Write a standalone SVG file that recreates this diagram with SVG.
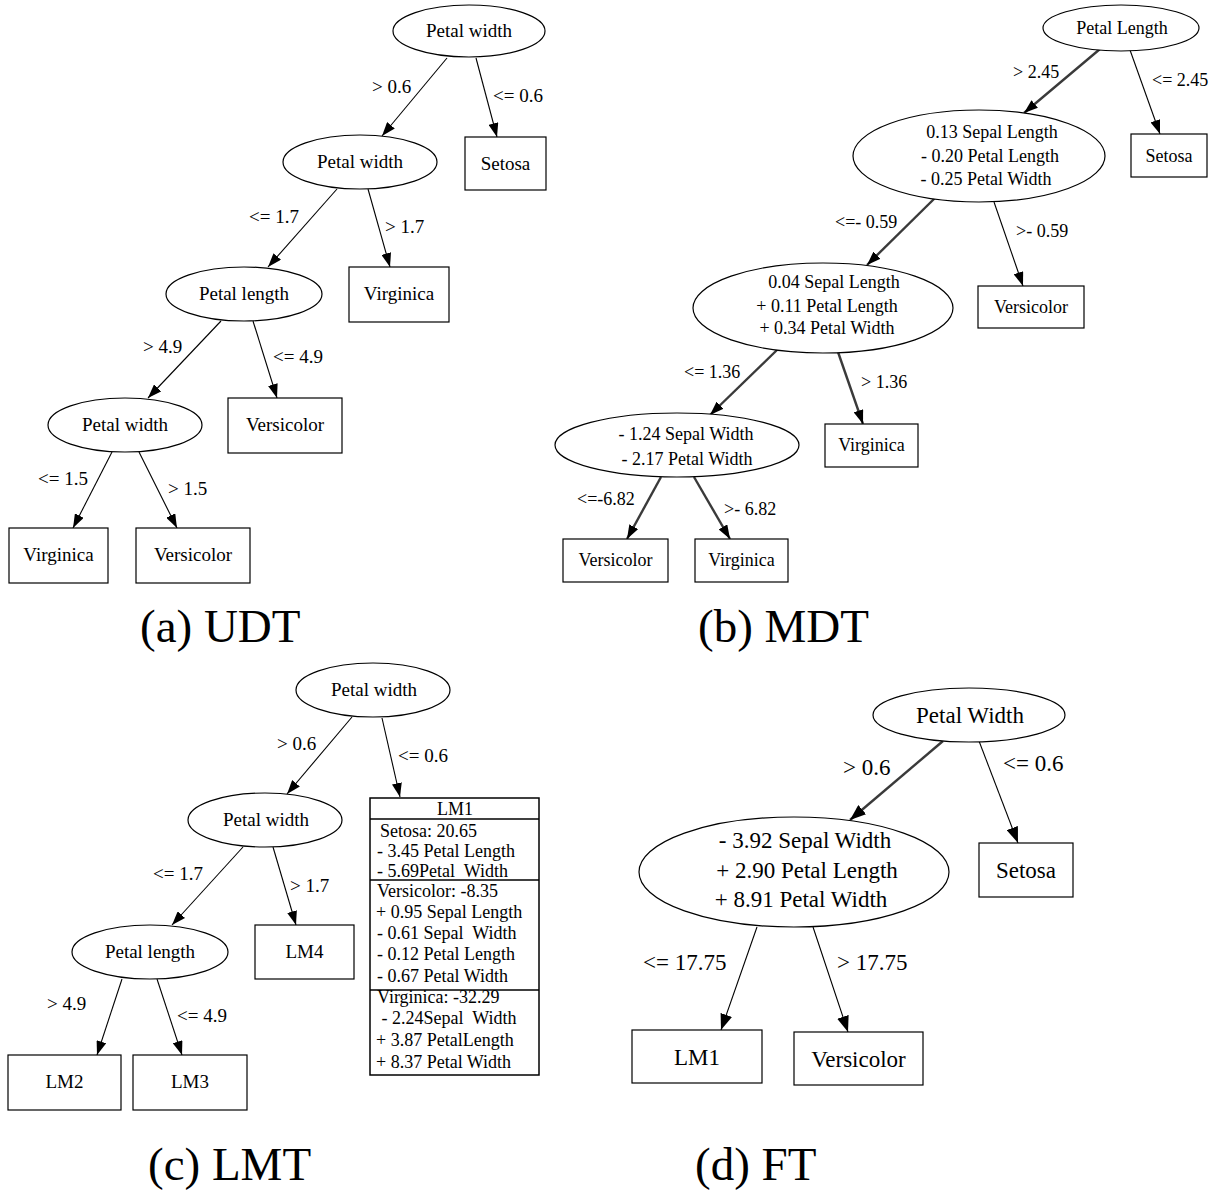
<svg xmlns="http://www.w3.org/2000/svg" width="1219" height="1200" viewBox="0 0 1219 1200">
<style>
text{font-family:"Liberation Serif","Times New Roman",serif;fill:#000;white-space:pre}
.n{fill:#fff;stroke:#000;stroke-width:1.2}
.e{fill:none;stroke:#000;stroke-width:1.1;marker-end:url(#ah)}
.t{fill:none;stroke:#3a3a3a;stroke-width:2.4;marker-end:url(#ah)}
.ed{fill:none;stroke:#000;stroke-width:1.1;marker-end:url(#ah2)}
.td{fill:none;stroke:#3a3a3a;stroke-width:2.4;marker-end:url(#ah2)}
.f19{font-size:19px}.f18{font-size:18px}.f23{font-size:23px}
.c{text-anchor:middle}
.title{font-size:47px}
.sep{stroke:#000;stroke-width:1.5}
</style>
<defs>
<marker id="ah" markerWidth="14" markerHeight="10" refX="14" refY="5" orient="auto" markerUnits="userSpaceOnUse"><path d="M0,0 L14,5 L0,10 z" fill="#000"/></marker>
<marker id="ah2" markerWidth="16" markerHeight="12" refX="16" refY="6" orient="auto" markerUnits="userSpaceOnUse"><path d="M0,0 L16,6 L0,12 z" fill="#000"/></marker>
</defs>
<rect width="1219" height="1200" fill="#fff"/>

<g id="connectors">
<!-- (a) -->
<line class="e" x1="447" y1="58" x2="382" y2="136"/>
<line class="e" x1="476" y1="58" x2="497" y2="137"/>
<line class="e" x1="337" y1="189" x2="268" y2="267"/>
<line class="e" x1="368" y1="189" x2="390" y2="267"/>
<line class="e" x1="221" y1="321" x2="148" y2="398"/>
<line class="e" x1="253" y1="321" x2="277" y2="398"/>
<line class="e" x1="112" y1="452" x2="73" y2="528"/>
<line class="e" x1="139" y1="452" x2="177" y2="528"/>
<g class="f19">
<text x="372" y="93">&gt; 0.6</text>
<text x="493" y="102">&lt;= 0.6</text>
<text x="249" y="223">&lt;= 1.7</text>
<text x="385" y="233">&gt; 1.7</text>
<text x="143" y="353">&gt; 4.9</text>
<text x="273" y="363">&lt;= 4.9</text>
<text x="38" y="485">&lt;= 1.5</text>
<text x="168" y="495">&gt; 1.5</text>
</g>
<!-- (b) -->
<line class="t" x1="1100" y1="49" x2="1024" y2="113"/>
<line class="e" x1="1130" y1="50" x2="1160" y2="134"/>
<line class="t" x1="935" y1="198" x2="867" y2="265"/>
<line class="e" x1="994" y1="202" x2="1023" y2="286"/>
<line class="t" x1="777" y1="350" x2="710" y2="415"/>
<line class="t" x1="838" y1="352" x2="863" y2="424"/>
<line class="t" x1="661" y1="477" x2="627" y2="539"/>
<line class="t" x1="694" y1="477" x2="730" y2="539"/>
<g class="f18">
<text x="1013" y="78">&gt; 2.45</text>
<text x="1152" y="86">&lt;= 2.45</text>
<text x="835" y="228">&lt;=- 0.59</text>
<text x="1016" y="237">&gt;- 0.59</text>
<text x="684" y="378">&lt;= 1.36</text>
<text x="861" y="388">&gt; 1.36</text>
<text x="577" y="505">&lt;=-6.82</text>
<text x="724" y="515">&gt;- 6.82</text>
</g>
<!-- (c) -->
<line class="e" x1="352" y1="717" x2="287" y2="794"/>
<line class="e" x1="382" y1="718" x2="400" y2="797"/>
<line class="e" x1="243" y1="847" x2="172" y2="925"/>
<line class="e" x1="273" y1="847" x2="296" y2="925"/>
<line class="e" x1="122" y1="979" x2="97" y2="1055"/>
<line class="e" x1="157" y1="979" x2="182" y2="1055"/>
<g class="f19">
<text x="277" y="750">&gt; 0.6</text>
<text x="398" y="762">&lt;= 0.6</text>
<text x="153" y="880">&lt;= 1.7</text>
<text x="290" y="892">&gt; 1.7</text>
<text x="47" y="1010">&gt; 4.9</text>
<text x="177" y="1022">&lt;= 4.9</text>
</g>
<!-- (d) -->
<line class="td" x1="943" y1="741" x2="850" y2="820"/>
<line class="ed" x1="979" y1="741" x2="1018" y2="843"/>
<line class="ed" x1="757" y1="927" x2="721" y2="1030"/>
<line class="ed" x1="813" y1="927" x2="848" y2="1032"/>
<g class="f23">
<text x="843" y="775">&gt; 0.6</text>
<text x="1003" y="771">&lt;= 0.6</text>
<text x="643" y="970">&lt;= 17.75</text>
<text x="837" y="970">&gt; 17.75</text>
</g>
</g>

<!-- (a) UDT nodes -->
<g id="a_n1"><ellipse class="n" cx="469" cy="31" rx="76" ry="26"/><text class="f19 c" x="469" y="37">Petal width</text></g>
<g id="a_setosa"><rect class="n" x="465" y="137" width="81" height="53"/><text class="f19 c" x="505.5" y="170">Setosa</text></g>
<g id="a_n2"><ellipse class="n" cx="360" cy="162" rx="77" ry="27"/><text class="f19 c" x="360" y="168">Petal width</text></g>
<g id="a_virginica1"><rect class="n" x="349" y="267" width="100" height="55"/><text class="f19 c" x="399" y="300">Virginica</text></g>
<g id="a_n3"><ellipse class="n" cx="244" cy="294" rx="78" ry="27"/><text class="f19 c" x="244" y="300">Petal length</text></g>
<g id="a_versicolor1"><rect class="n" x="228" y="398" width="114" height="55"/><text class="f19 c" x="285" y="431">Versicolor</text></g>
<g id="a_n4"><ellipse class="n" cx="125" cy="425" rx="77" ry="27"/><text class="f19 c" x="125" y="431">Petal width</text></g>
<g id="a_virginica2"><rect class="n" x="9" y="528" width="99" height="55"/><text class="f19 c" x="58.5" y="561">Virginica</text></g>
<g id="a_versicolor2"><rect class="n" x="136" y="528" width="114" height="55"/><text class="f19 c" x="193" y="561">Versicolor</text></g>
<text class="title" x="140" y="642">(a) UDT</text>

<!-- (b) MDT nodes -->
<g id="b_n1"><ellipse class="n" cx="1121" cy="28" rx="78" ry="23"/><text class="f18 c" x="1122" y="34">Petal Length</text></g>
<g id="b_setosa"><rect class="n" x="1131" y="134" width="76" height="43"/><text class="f18 c" x="1169" y="162">Setosa</text></g>
<g id="b_n2"><ellipse class="n" cx="979" cy="156" rx="126" ry="46"/>
<text class="f18 c" x="992" y="138">0.13 Sepal Length</text>
<text class="f18 c" x="990" y="162">- 0.20 Petal Length</text>
<text class="f18 c" x="986" y="185">- 0.25 Petal Width</text></g>
<g id="b_versicolor1"><rect class="n" x="978" y="286" width="106" height="42"/><text class="f18 c" x="1031" y="313">Versicolor</text></g>
<g id="b_n3"><ellipse class="n" cx="823" cy="308" rx="130" ry="45"/>
<text class="f18 c" x="834" y="288">0.04 Sepal Length</text>
<text class="f18 c" x="827" y="312">+ 0.11 Petal Length</text>
<text class="f18 c" x="827" y="334">+ 0.34 Petal Width</text></g>
<g id="b_virginica1"><rect class="n" x="825" y="424" width="93" height="43"/><text class="f18 c" x="871.5" y="451">Virginica</text></g>
<g id="b_n4"><ellipse class="n" cx="677" cy="445" rx="122" ry="32"/>
<text class="f18 c" x="686" y="440">- 1.24 Sepal Width</text>
<text class="f18 c" x="687" y="465">- 2.17 Petal Width</text></g>
<g id="b_versicolor2"><rect class="n" x="563" y="539" width="105" height="43"/><text class="f18 c" x="615.5" y="566">Versicolor</text></g>
<g id="b_virginica2"><rect class="n" x="695" y="539" width="93" height="43"/><text class="f18 c" x="741.5" y="566">Virginica</text></g>
<text class="title" x="698" y="642">(b) MDT</text>

<!-- (c) LMT nodes -->
<g id="c_n1"><ellipse class="n" cx="373" cy="690" rx="77" ry="27"/><text class="f19 c" x="374" y="696">Petal width</text></g>
<g id="c_lm1"><rect class="n" x="370" y="798" width="169" height="277" style="stroke-width:1.5"/>
<line class="sep" x1="370" y1="819" x2="539" y2="819"/>
<line class="sep" x1="370" y1="880" x2="539" y2="880"/>
<line class="sep" x1="370" y1="990" x2="539" y2="990"/>
<text class="f18 c" x="455" y="815">LM1</text>
<text class="f18" x="380" y="837">Setosa: 20.65</text>
<text class="f18" x="377" y="857">- 3.45 Petal Length</text>
<text class="f18" x="377" y="877">- 5.69Petal  Width</text>
<text class="f18" x="377" y="897">Versicolor: -8.35</text>
<text class="f18" x="376" y="918">+ 0.95 Sepal Length</text>
<text class="f18" x="377" y="939">- 0.61 Sepal  Width</text>
<text class="f18" x="377" y="960">- 0.12 Petal Length</text>
<text class="f18" x="377" y="982">- 0.67 Petal Width</text>
<text class="f18" x="377" y="1003">Virginica: -32.29</text>
<text class="f18" x="377" y="1024"> - 2.24Sepal  Width</text>
<text class="f18" x="376" y="1046">+ 3.87 PetalLength</text>
<text class="f18" x="376" y="1068">+ 8.37 Petal Width</text></g>
<g id="c_n2"><ellipse class="n" cx="265" cy="820" rx="77" ry="27"/><text class="f19 c" x="266" y="826">Petal width</text></g>
<g id="c_lm4"><rect class="n" x="255" y="925" width="99" height="54"/><text class="f19 c" x="304.5" y="958">LM4</text></g>
<g id="c_n3"><ellipse class="n" cx="150" cy="952" rx="78" ry="27"/><text class="f19 c" x="150" y="958">Petal length</text></g>
<g id="c_lm2"><rect class="n" x="8" y="1055" width="113" height="55"/><text class="f19 c" x="64.5" y="1088">LM2</text></g>
<g id="c_lm3"><rect class="n" x="133" y="1055" width="114" height="55"/><text class="f19 c" x="190" y="1088">LM3</text></g>
<text class="title" x="148" y="1180">(c) LMT</text>

<!-- (d) FT nodes -->
<g id="d_n1"><ellipse class="n" cx="969" cy="715" rx="96" ry="27"/><text class="f23 c" x="970" y="723">Petal Width</text></g>
<g id="d_setosa"><rect class="n" x="979" y="843" width="94" height="54"/><text class="f23 c" x="1026" y="878">Setosa</text></g>
<g id="d_n2"><ellipse class="n" cx="794" cy="872" rx="155" ry="55"/>
<text class="f23 c" x="805" y="848">- 3.92 Sepal Width</text>
<text class="f23 c" x="807" y="878">+ 2.90 Petal Length</text>
<text class="f23 c" x="801" y="907">+ 8.91 Petal Width</text></g>
<g id="d_lm1"><rect class="n" x="632" y="1030" width="130" height="53"/><text class="f23 c" x="697" y="1065">LM1</text></g>
<g id="d_versicolor"><rect class="n" x="794" y="1032" width="129" height="53"/><text class="f23 c" x="858.5" y="1067">Versicolor</text></g>
<text class="title" x="695" y="1180">(d) FT</text>
</svg>
